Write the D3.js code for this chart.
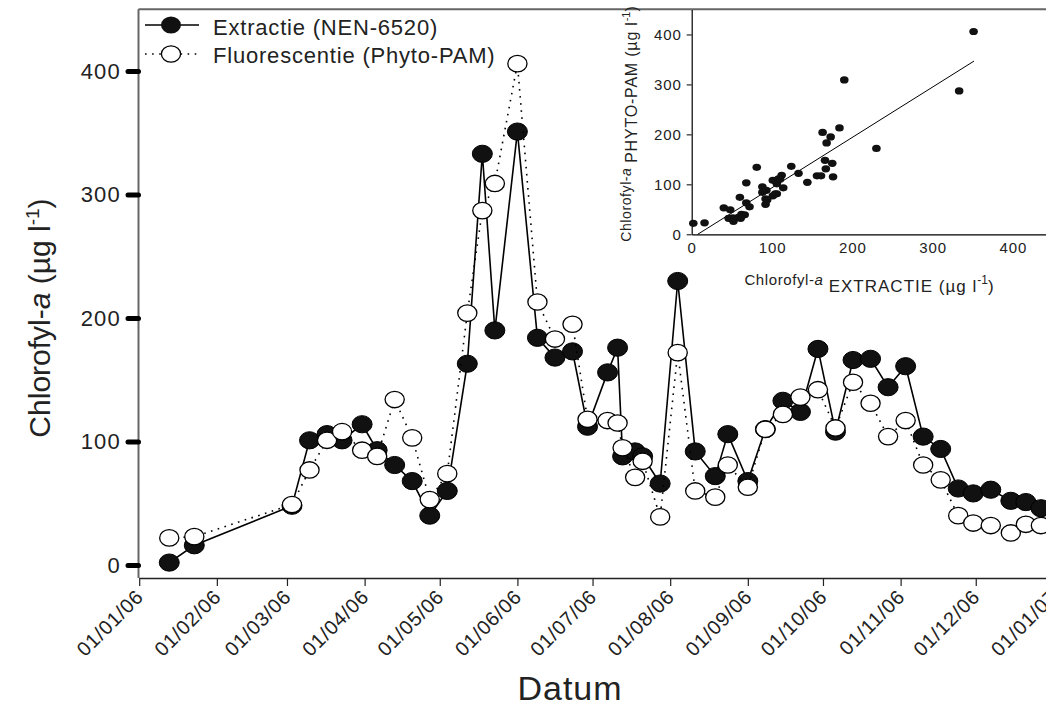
<!DOCTYPE html>
<html>
<head>
<meta charset="utf-8">
<script src="https://cdn.jsdelivr.net/npm/d3@7"></script>
<style>
  html, body { margin: 0; padding: 0; background: #fff; }
  svg { display: block; font-family: Arial, "Liberation Sans", Helvetica, sans-serif; }
</style>
</head>
<body>
<svg id="chart" width="1046" height="707"></svg>
<script>
// ---------------- data ----------------
const dates = ["2006-01-13","2006-01-23","2006-03-03","2006-03-10","2006-03-17","2006-03-23","2006-03-31",
  "2006-04-06","2006-04-13","2006-04-20","2006-04-27","2006-05-04","2006-05-12","2006-05-18","2006-05-23",
  "2006-06-01","2006-06-09","2006-06-16","2006-06-23","2006-06-29","2006-07-07","2006-07-11","2006-07-13",
  "2006-07-18","2006-07-21","2006-07-28","2006-08-04","2006-08-11","2006-08-19","2006-08-24","2006-09-01",
  "2006-09-08","2006-09-15","2006-09-22","2006-09-29","2006-10-06","2006-10-13","2006-10-20","2006-10-27",
  "2006-11-03","2006-11-10","2006-11-17","2006-11-24","2006-11-30","2006-12-07","2006-12-15","2006-12-21",
  "2006-12-27"];
const extractie = [2,16,48,101,106,101,114,93,81,68,40,60,163,333,190,351,184,168,173,112,156,176,88,92,88,66,
  230,92,72,106,68,110,133,124,175,108,166,167,144,161,104,94,62,58,61,52,51,46];
const fluorescentie = [22,23,49,77,101,108,93,88,134,103,53,74,204,287,309,406,213,183,195,118,117,115,95,71,84,39,
  172,60,55,81,63,110,122,136,142,111,148,131,104,117,81,69,40,34,32,26,33,32];
const yTicks = [0,100,200,300,400];
const xDomain = ["2006-01-01","2007-01-01"];
const insetTicks = [0,100,200,300,400];
const fitLine = [[7.5,0],[351.5,346.7]];
const seriesNames = ["Extractie (NEN-6520)","Fluorescentie (Phyto-PAM)"];

// ---------------- setup ----------------
const parse = d3.utcParse("%Y-%m-%d");
const svg = d3.select("#chart");
const x = d3.scaleUtc().domain(xDomain.map(parse)).range([139.2, 1053.4]);
const y = d3.scaleLinear().domain([-10, 450]).range([577.4, 9.3]);

const ext = dates.map((d,i) => ({date: parse(d), v: extractie[i]}));
const flu = dates.map((d,i) => ({date: parse(d), v: fluorescentie[i]}));

// frame lines (top + left)
svg.append("line").attr("x1",138.5).attr("x2",1046).attr("y1",9.3).attr("y2",9.3)
  .attr("stroke","#666").attr("stroke-width",2);
svg.append("line").attr("x1",138.5).attr("x2",138.5).attr("y1",9.3).attr("y2",578)
  .attr("stroke","#666").attr("stroke-width",2);

// x axis
const xAxis = d3.axisBottom(x).ticks(d3.utcMonth.every(1)).tickFormat(d3.utcFormat("%d/%m/%y"))
  .tickSize(8).tickSizeOuter(0);
const gx = svg.append("g").attr("transform","translate(0,578)").call(xAxis);
gx.select(".domain").attr("stroke","#222").attr("stroke-width",1.6);
gx.selectAll(".tick line").attr("stroke","#222").attr("stroke-width",1.2);
gx.selectAll(".tick text").remove();
gx.selectAll(".tick").append("text")
  .attr("transform","translate(5,20) rotate(-45)")
  .attr("text-anchor","end")
  .attr("fill","#222")
  .style("font-size","20px")
  .style("letter-spacing","0.8px")
  .text(d => d3.utcFormat("%d/%m/%y")(d));

// y axis
const yAxis = d3.axisLeft(y).tickValues(yTicks).tickSize(11).tickSizeOuter(0).tickPadding(7);
const gy = svg.append("g").attr("transform","translate(139,0)").call(yAxis);
gy.select(".domain").remove();
gy.selectAll(".tick line").attr("stroke","#000").attr("stroke-width",5).attr("stroke-linecap","round")
  .attr("x1",-0.5);
gy.selectAll(".tick text").attr("fill","#222").style("font-size","22px").style("letter-spacing","1.2px")
  .style("font-family","Arial, 'Liberation Sans', sans-serif");

// axis titles
const yl = svg.append("text").attr("transform","translate(50,318) rotate(-90)")
  .attr("text-anchor","middle").attr("fill","#222").style("font-size","30px");
yl.append("tspan").text("Chlorofyl-");
yl.append("tspan").style("font-style","italic").text("a");
yl.append("tspan").text(" (µg l");
yl.append("tspan").attr("dy",-11).style("font-size","19px").text("-1");
yl.append("tspan").attr("dy",11).text(")");

svg.append("text").attr("x",570).attr("y",700).attr("text-anchor","middle")
  .attr("fill","#222").style("font-size","34px").style("letter-spacing","1px").text("Datum");

// lines
const line = d3.line().x(d => x(d.date)).y(d => y(d.v));
svg.append("path").datum(ext).attr("d",line).attr("fill","none").attr("stroke","#000").attr("stroke-width",1.6);
svg.append("g").selectAll("ellipse").data(ext).join("ellipse")
  .attr("cx",d => x(d.date)).attr("cy",d => y(d.v)).attr("rx",10).attr("ry",8.6)
  .attr("fill","#111").attr("stroke","#000").attr("stroke-width",1);
svg.append("path").datum(flu).attr("d",line).attr("fill","none").attr("stroke","#000")
  .attr("stroke-width",1.6).attr("stroke-dasharray","1.6,5.5");
svg.append("g").selectAll("ellipse").data(flu).join("ellipse")
  .attr("cx",d => x(d.date)).attr("cy",d => y(d.v)).attr("rx",9.6).attr("ry",8.2)
  .attr("fill","#fff").attr("stroke","#000").attr("stroke-width",1.3);

// legend
const leg = svg.append("g");
leg.append("line").attr("x1",145).attr("x2",199).attr("y1",25).attr("y2",25).attr("stroke","#000").attr("stroke-width",1.6);
leg.append("ellipse").attr("cx",171).attr("cy",25).attr("rx",10).attr("ry",8.6).attr("fill","#111");
leg.append("text").attr("x",213).attr("y",35).attr("fill","#222").style("font-size","22px")
  .style("letter-spacing","0.8px").text(seriesNames[0]);
leg.append("line").attr("x1",145).attr("x2",199).attr("y1",54).attr("y2",54).attr("stroke","#000")
  .attr("stroke-width",1.6).attr("stroke-dasharray","1.6,5.5");
leg.append("ellipse").attr("cx",171).attr("cy",54).attr("rx",9.6).attr("ry",8.2)
  .attr("fill","#fff").attr("stroke","#000").attr("stroke-width",1.3);
leg.append("text").attr("x",213).attr("y",63).attr("fill","#222").style("font-size","22px")
  .style("letter-spacing","0.8px").text(seriesNames[1]);

// ---------------- inset ----------------
const ix = d3.scaleLinear().domain([0,450]).range([691.7, 1053.1]);
const iy = d3.scaleLinear().domain([0,450]).range([234.3, 9.5]);
const ins = svg.append("g");
const ixAxis = d3.axisBottom(ix).tickValues(insetTicks).tickSize(0).tickSizeOuter(0).tickPadding(8);
const gix = ins.append("g").attr("transform","translate(0,234.3)").call(ixAxis);
gix.select(".domain").attr("stroke","#000").attr("stroke-width",1.2);
gix.selectAll(".tick text").attr("fill","#222").style("font-size","15px").style("letter-spacing","0.9px");
const iyAxis = d3.axisLeft(iy).tickValues(insetTicks).tickSize(5).tickSizeOuter(0).tickPadding(5);
const giy = ins.append("g").attr("transform","translate(691.7,0)").call(iyAxis);
giy.select(".domain").attr("stroke","#000").attr("stroke-width",1.2);
giy.selectAll(".tick line").attr("stroke","#000");
giy.selectAll(".tick text").attr("fill","#222").style("font-size","15px").style("letter-spacing","0.9px");

ins.append("line").attr("x1",ix(fitLine[0][0])).attr("y1",iy(fitLine[0][1]))
  .attr("x2",ix(fitLine[1][0])).attr("y2",iy(fitLine[1][1])).attr("stroke","#000").attr("stroke-width",1);
ins.append("g").selectAll("ellipse").data(dates.map((d,i)=>[extractie[i],fluorescentie[i]])).join("ellipse")
  .attr("cx",d => ix(d[0])).attr("cy",d => iy(d[1])).attr("rx",4.3).attr("ry",3.6).attr("fill","#111");

const ixl = ins.append("text").attr("x",869).attr("y",285).attr("text-anchor","middle").attr("fill","#222")
  .style("font-size","15px");
ixl.append("tspan").style("letter-spacing","0.6px").text("Chlorofyl-");
ixl.append("tspan").style("font-style","italic").text("a");
ixl.append("tspan").attr("dy",7).style("font-size","17px").style("letter-spacing","1px").text(" EXTRACTIE (µg l");
ixl.append("tspan").attr("dy",-8).style("font-size","12px").text("-1");
ixl.append("tspan").attr("dy",8).style("font-size","17px").text(")");

const iyl = ins.append("text").attr("transform","translate(631,124) rotate(-90)").attr("text-anchor","middle")
  .attr("fill","#222").style("font-size","14px");
iyl.append("tspan").style("letter-spacing","0.6px").text("Chlorofyl-");
iyl.append("tspan").style("font-style","italic").text("a");
iyl.append("tspan").attr("dy",6).style("font-size","16px").style("letter-spacing","0.8px").text(" PHYTO-PAM (µg l");
iyl.append("tspan").attr("dy",-7).style("font-size","11px").text("-1");
iyl.append("tspan").attr("dy",7).style("font-size","16px").text(")");
</script>
</body>
</html>
